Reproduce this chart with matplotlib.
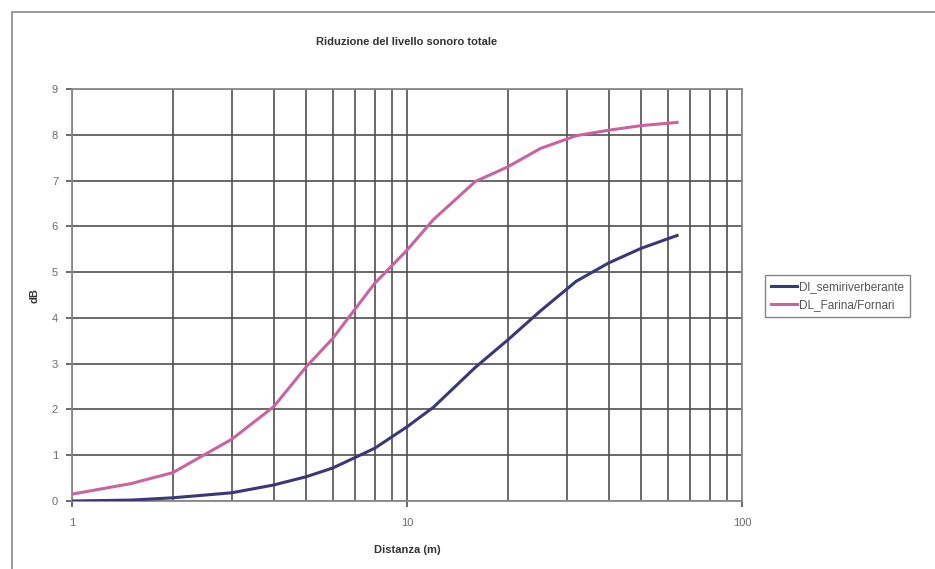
import matplotlib.pyplot as plt
from matplotlib.patches import Rectangle
from matplotlib.ticker import LogLocator, NullFormatter, FixedLocator, FixedFormatter

plt.rcParams['font.family'] = ['Liberation Sans', 'DejaVu Sans']

# distanze (m) e riduzione del livello (dB)
distanza = [1, 1.5, 2, 3, 4, 5, 6, 8, 10, 12, 16, 20, 25, 32, 40, 50, 64]
dl_semiriv = [0.0, 0.02, 0.07, 0.18, 0.35, 0.53, 0.72, 1.15, 1.62, 2.05, 2.92,
              3.52, 4.15, 4.8, 5.2, 5.52, 5.8]
dl_farina = [0.15, 0.38, 0.62, 1.35, 2.06, 2.93, 3.55, 4.75, 5.48, 6.15, 6.98,
             7.3, 7.7, 7.98, 8.1, 8.2, 8.27]
y_ticks = list(range(0, 10))
x_ticks = [1, 10, 100]

W, H = 935, 569
fig = plt.figure(figsize=(W / 100, H / 100), dpi=100)

# cornice esterna del grafico
fig.patches.append(Rectangle((12 / W, -0.05), 1.1, (H - 12) / H + 0.05,
                             transform=fig.transFigure, fill=False,
                             edgecolor='#8a8a8a', lw=1.2))

l, r, t, b = 72, 742, 89, 501
ax = fig.add_axes([l / W, (H - b) / H, (r - l) / W, (b - t) / H])

grid_c = '#505050'
ax.plot(distanza, dl_semiriv, color='#3b3878', lw=2.2, label='Dl_semiriverberante',
        zorder=3)
ax.plot(distanza, dl_farina, color='#c9649e', lw=2.2, label='DL_Farina/Fornari',
        zorder=3)

ax.set_xscale('log')
ax.set_xlim(1, 100)
ax.set_ylim(0, 9)
ax.xaxis.set_major_locator(FixedLocator(x_ticks))
ax.xaxis.set_major_formatter(FixedFormatter([str(v) for v in x_ticks]))
ax.xaxis.set_minor_locator(LogLocator(base=10, subs=range(2, 10)))
ax.xaxis.set_minor_formatter(NullFormatter())
ax.set_yticks(y_ticks)

ax.grid(True, which='both', axis='x', color=grid_c, lw=1.2)
ax.grid(True, which='major', axis='y', color=grid_c, lw=1.2)
ax.tick_params(axis='both', which='major', length=4, width=1.2, color=grid_c,
               labelsize=8, labelcolor='#6a6a6a', pad=6)
ax.tick_params(axis='x', which='minor', length=0)
ax.tick_params(axis='x', which='major', pad=8)
for s in ax.spines.values():
    s.set_color('#8a8a8a')
    s.set_linewidth(1.3)

fig.text((l + r) / 2 / W, 1 - 42 / H, 'Riduzione del livello sonoro totale',
         ha='center', va='center', fontsize=8, fontweight='bold', color='#333333')
fig.text(35 / W, 1 - 296 / H, 'dB', ha='center', va='center', rotation=90,
         fontsize=8, fontweight='bold', color='#333333')
fig.text((l + r) / 2 / W, 1 - 550 / H, 'Distanza (m)', ha='center', va='center',
         fontsize=8, fontweight='bold', color='#333333')

leg = fig.legend(loc='center left', bbox_to_anchor=(765 / W, 1 - 296 / H),
                 fontsize=8.5, frameon=True, fancybox=False, handlelength=2.2,
                 handletextpad=0.1, borderpad=0.55, labelspacing=0.45,
                 borderaxespad=0)
leg.get_frame().set_edgecolor('#666666')
leg.get_frame().set_linewidth(1.0)
for txt in leg.get_texts():
    txt.set_color('#555555')

fig.savefig('out.png', dpi=100)
